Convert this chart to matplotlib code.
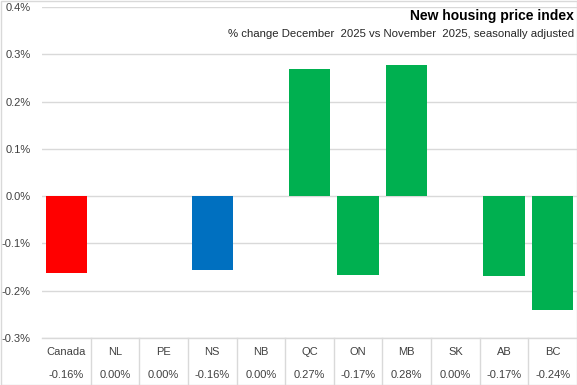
import matplotlib
matplotlib.use("Agg")
import matplotlib.pyplot as plt
from matplotlib.transforms import blended_transform_factory
from matplotlib.lines import Line2D
from matplotlib.patches import Rectangle

categories = ["Canada", "NL", "PE", "NS", "NB", "QC", "ON", "MB", "SK", "AB", "BC"]
values = [-0.162, 0.0, 0.0, -0.157, 0.0, 0.268, -0.166, 0.277, 0.0, -0.168, -0.241]
table_labels = ["-0.16%", "0.00%", "0.00%", "-0.16%", "0.00%", "0.27%", "-0.17%", "0.28%", "0.00%", "-0.17%", "-0.24%"]
colors = ["#FF0000", "#00B050", "#00B050", "#0070C0", "#00B050", "#00B050", "#00B050",
          "#00B050", "#00B050", "#00B050", "#00B050"]
yticks = [-0.3, -0.2, -0.1, 0.0, 0.1, 0.2, 0.3, 0.4]
ytick_labels = ["-0.3%", "-0.2%", "-0.1%", "0.0%", "0.1%", "0.2%", "0.3%", "0.4%"]
title = "New housing price index"
subtitle = "% change December  2025 vs November  2025, seasonally adjusted"

plt.rcParams['font.family'] = ['Liberation Sans Narrow', 'Liberation Sans', 'DejaVu Sans']

W, H = 577, 385
fig = plt.figure(figsize=(W / 100, H / 100), dpi=100)
ax = fig.add_axes([42 / W, 1 - 338 / H, 535 / W, (338 - 7) / H])

x = list(range(len(categories)))
ax.bar(x, values, width=0.85, color=colors, zorder=3)
ax.set_xlim(-0.5, len(categories) - 0.5)
ax.set_ylim(-0.3, 0.4)
ax.set_yticks(yticks)
ax.set_yticklabels(ytick_labels, fontsize=8, color="#404040")
ax.tick_params(axis='y', length=0, pad=8)
ax.set_xticks([])
for s in ax.spines.values():
    s.set_visible(False)
ax.grid(axis='y', color="#D9D9D9", linewidth=1, zorder=0)

# data table below
tr = blended_transform_factory(ax.transData, fig.transFigure)
y1 = 1 - 352 / H
y2 = 1 - 375 / H
for i, (c, t) in enumerate(zip(categories, table_labels)):
    ax.text(i, y1, c, transform=tr, ha='center', va='center', fontsize=8, color="#404040")
    ax.text(i, y2, t, transform=tr, ha='center', va='center', fontsize=8, color="#404040")
ytop = 1 - 338 / H
ybot = 1 - 384 / H
for i in range(1, len(categories)):
    fig.add_artist(Line2D([i - 0.5, i - 0.5], [ytop, ybot], transform=tr, color="#D9D9D9", lw=1))
fig.add_artist(Line2D([-0.5, 10.5], [ytop, ytop], transform=tr, color="#D9D9D9", lw=1))

fig.text(574 / W, 1 - 16 / H, title, ha='right', va='center', fontsize=10, fontweight='bold', color="black")
fig.text(574 / W, 1 - 34 / H, subtitle, ha='right', va='center', fontsize=8.2, color="#262626")

fig.add_artist(Rectangle((0.5 / W, 0.5 / H), 1 - 1 / W, 1 - 1 / H, transform=fig.transFigure,
                         fill=False, edgecolor="#D9D9D9", lw=1))

fig.savefig("out.png", dpi=100)
